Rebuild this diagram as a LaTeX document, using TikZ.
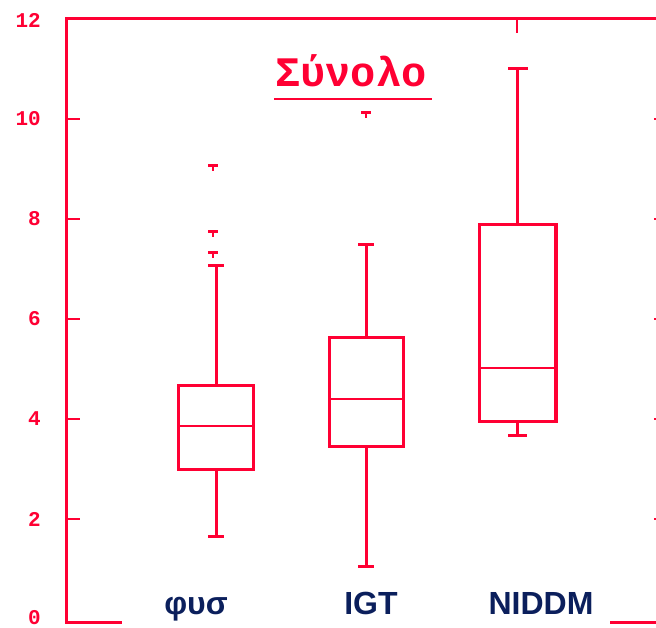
\documentclass[tikz,border=0pt]{standalone}
\usepackage{fontspec}
\setmainfont{Liberation Sans}
\newfontfamily\pixfont{Liberation Mono}
\definecolor{plotred}{HTML}{FF0033}
\definecolor{navy}{HTML}{0B1F5C}
\begin{document}
\begin{tikzpicture}[x=1pt,y=-1pt,
  axisline/.style={draw=plotred,line width=3pt},
  boxline/.style={draw=plotred,line width=3pt},
  medline/.style={draw=plotred,line width=2.6pt},
  whisk/.style={draw=plotred,line width=3pt},
  tickline/.style={draw=plotred,line width=2pt},
  ticklabel/.style={text=plotred,font=\pixfont\bfseries\fontsize{21}{21}\selectfont,anchor=east,inner sep=0pt},
  grouplabel/.style={text=navy,font=\bfseries\fontsize{32}{32}\selectfont,anchor=base,inner sep=0pt},
  outl/.style={draw=plotred,line width=3pt}]
\useasboundingbox (0,0) rectangle (656,628);
% axes
\coordinate (tl) at (66,19);
\coordinate (tr) at (656,19);
\coordinate (bl) at (66,622);
\coordinate (br1) at (122,622);
\coordinate (br2) at (610,622);
\coordinate (br3) at (656,622);
\draw[axisline] (tr) -- (tl) -- (bl) -- (br1);
\draw[axisline] (br2) -- (br3);
% top tick
\coordinate (tt) at (517,33);
\draw[tickline] (517,19) -- (tt);
% left ticks and labels
\foreach \v/\yy in {0/618,2/519,4/419,6/319,8/219,10/119,12/20}{
  \node[ticklabel] (lab\v) at (41,\yy) {\v};
}
\foreach \yy in {119,219,319,419,519}{
  \draw[tickline] (66,\yy) -- (80,\yy);
  \draw[draw=plotred,line width=2pt] (654,\yy) -- (656,\yy);
}
% title
\node[text=plotred,font=\pixfont\bfseries\fontsize{42}{42}\selectfont,anchor=base,inner sep=0pt] (title) at (351,87) {Σύνολο};
\draw[draw=plotred,line width=2.2pt] (274,99) -- (432,99);
% phys
\draw[whisk] (216,385) -- (216,266);
\draw[whisk] (208,266) -- (224,266);
\draw[whisk] (216,469) -- (216,536);
\draw[whisk] (208,536) -- (224,536);
\draw[boxline] (178,385) rectangle (253,469);
\draw[line width=1.5pt,draw=plotred] (179,385) -- (179,469);
\draw[medline] (178,426) -- (253,426);
\foreach \yy in {166,232,253}{
  \draw[outl] (208,\yy) -- (218,\yy);
  \draw[draw=plotred,line width=2pt] (213,\yy) -- (213,\yy+5);
}
% IGT
\draw[whisk] (366,338) -- (366,245);
\draw[whisk] (358,245) -- (374,245);
\draw[whisk] (366,446) -- (366,566);
\draw[whisk] (358,566) -- (374,566);
\draw[boxline] (329,338) rectangle (403,446);
\draw[line width=1.5pt,draw=plotred] (330,338) -- (330,446);
\draw[medline] (329,399) -- (403,399);
\draw[outl] (361,113) -- (371,113);
\draw[draw=plotred,line width=2pt] (366,113) -- (366,118);
% NIDDM
\draw[whisk] (517,225) -- (517,69);
\draw[whisk] (508,69) -- (528,69);
\draw[whisk] (517,421) -- (517,435);
\draw[whisk] (508,435) -- (527,435);
\draw[boxline] (479,225) rectangle (556,421);
\draw[line width=1.5pt,draw=plotred] (555,225) -- (555,421);
\draw[medline] (479,368) -- (556,368);
% group labels
\node[grouplabel] (g1) at (196,614) {φυσ};
\node[grouplabel] (g2) at (371,614) {IGT};
\node[grouplabel] (g3) at (541,614) {NIDDM};
\end{tikzpicture}
\end{document}
